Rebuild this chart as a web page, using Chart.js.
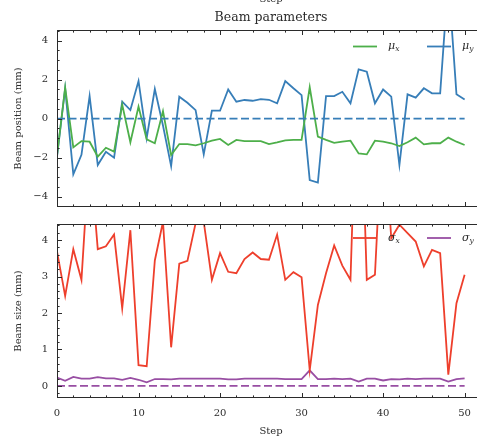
<!DOCTYPE html>
<html>
<head>
<meta charset="utf-8">
<script src="https://cdn.jsdelivr.net/npm/chart.js@4.4.1/dist/chart.umd.min.js"></script>
<style>
  html, body { margin: 0; padding: 0; background: #fff; overflow: hidden; }
  body { width: 477px; height: 437px; position: relative; }
  .panel { position: absolute; left: 0; width: 492px; }
  #topPanel { top: 0; height: 215px; }
  #bottomPanel { top: 215px; height: 222px; }
</style>
</head>
<body>
<div class="panel" id="topPanel"><canvas id="posChart"></canvas></div>
<div class="panel" id="bottomPanel"><canvas id="sizeChart"></canvas></div>
<script>
const steps = [0, 1, 2, 3, 4, 5, 6, 7, 8, 9, 10, 11, 12, 13, 14, 15, 16, 17, 18, 19, 20,
  21, 22, 23, 24, 25, 26, 27, 28, 29, 30, 31, 32, 33, 34, 35, 36, 37, 38, 39, 40,
  41, 42, 43, 44, 45, 46, 47, 48, 49, 50];

// beam centroid (mm)
const muX = [-1.9, 1.6, -1.47, -1.15, -1.18, -1.95, -1.49, -1.69, 0.72, -1.21, 0.62,
  -1.06, -1.26, 0.39, -1.86, -1.3, -1.3, -1.37, -1.26, -1.13, -1.04,
  -1.35, -1.09, -1.15, -1.15, -1.15, -1.3, -1.21, -1.11, -1.09, -1.09,
  1.61, -0.92, -1.09, -1.24, -1.18, -1.13, -1.78, -1.83, -1.13, -1.18,
  -1.26, -1.4, -1.21, -0.97, -1.32, -1.26, -1.26, -0.97, -1.18, -1.35];
const muY = [-1.95, 1.55, -2.85, -1.85, 1.16, -2.38, -1.7, -2.0, 0.87, 0.44, 1.93,
  -1.0, 1.52, -0.35, -2.43, 1.13, 0.82, 0.44, -1.83, 0.41, 0.41,
  1.5, 0.87, 0.96, 0.92, 1.0, 0.97, 0.79, 1.93, 1.56, 1.21,
  -3.15, -3.28, 1.16, 1.16, 1.38, 0.79, 2.53, 2.41, 0.79, 1.5,
  1.13, -2.38, 1.25, 1.08, 1.56, 1.3, 1.3, 7.2, 1.26, 0.99];

// beam size (mm)
const sigmaX = [3.69, 2.47, 3.75, 2.91, 6.5, 3.75, 3.83, 4.15, 2.13, 4.27, 0.57,
  0.54, 3.44, 4.5, 1.06, 3.35, 3.43, 4.46, 4.5, 2.91, 3.64,
  3.13, 3.09, 3.48, 3.66, 3.48, 3.46, 4.15, 2.91, 3.12, 2.98,
  0.43, 2.22, 3.09, 3.85, 3.3, 2.91, 10.0, 2.91, 3.05, 7.5,
  4.05, 4.42, 4.19, 3.96, 3.28, 3.73, 3.64, 0.31, 2.27, 3.05];
const sigmaY = [0.23, 0.14, 0.25, 0.2, 0.2, 0.24, 0.21, 0.21, 0.17, 0.22, 0.17,
  0.1, 0.19, 0.19, 0.18, 0.2, 0.2, 0.2, 0.2, 0.2, 0.2,
  0.18, 0.18, 0.2, 0.2, 0.2, 0.2, 0.2, 0.19, 0.19, 0.19,
  0.43, 0.19, 0.19, 0.2, 0.19, 0.2, 0.12, 0.2, 0.2, 0.15,
  0.19, 0.18, 0.2, 0.19, 0.2, 0.2, 0.2, 0.12, 0.19, 0.21];

// targets
const targetSteps = [0, 50];
const targetMu = [0, 0];
const targetSigma = [0, 0];

const posTicks = [-4, -2, 0, 2, 4];
const sizeTicks = [0, 1, 2, 3, 4];
const stepTicks = [0, 10, 20, 30, 40, 50];

const FONT = "'DejaVu Serif', serif";
const INK = '#2b2b2b';
const GREEN = '#4daf4a';
const BLUE = '#377eb8';
const RED = '#ee3f2c';
const PURPLE = '#984ea3';

const toPoints = (xs, ys) => xs.map((x, i) => ({x: x, y: ys[i]}));
const minus = v => String(v).replace('-', '\u2212');

const lineSet = (label, xs, ys, color, dashed) => ({
  label: label,
  data: toPoints(xs, ys),
  borderColor: color,
  borderWidth: 1.8,
  borderDash: dashed ? [8, 3.5] : [],
  pointRadius: 0,
  tension: 0,
  clip: 0
});

// no extra room for half-height labels, the layout padding handles it
const noLabelPadding = s => {
  s.paddingTop = 0; s.paddingBottom = 0;
  s.paddingLeft = 0; s.paddingRight = 0;
};

// box frame plus inward major/minor ticks on every side
const frameTicks = {
  id: 'frameTicks',
  afterDraw(chart, args, opts) {
    const {ctx, chartArea: a, scales} = chart;
    const xs = scales.x, ys = scales.y;
    ctx.save();
    ctx.strokeStyle = INK;
    ctx.lineWidth = 1;
    ctx.strokeRect(Math.round(a.left) + 0.5, Math.round(a.top) + 0.5,
      Math.round(a.width) - 1, Math.round(a.height) - 1);
    const walk = (min, max, step, major, fn) => {
      for (let k = Math.ceil(min / step - 1e-9); k * step <= max + 1e-9; k++) {
        const v = k * step;
        const isMajor = Math.abs(v / major - Math.round(v / major)) < 1e-6;
        fn(v, isMajor ? 5 : 2.6);
      }
    };
    ctx.beginPath();
    walk(xs.min, xs.max, opts.xMinor, opts.xMajor, (v, len) => {
      const px = Math.round(xs.getPixelForValue(v)) + 0.5;
      ctx.moveTo(px, a.bottom); ctx.lineTo(px, a.bottom - len);
      ctx.moveTo(px, a.top); ctx.lineTo(px, a.top + len);
    });
    walk(ys.min, ys.max, opts.yMinor, opts.yMajor, (v, len) => {
      const py = Math.round(ys.getPixelForValue(v)) + 0.5;
      ctx.moveTo(a.left, py); ctx.lineTo(a.left + len, py);
      ctx.moveTo(a.right, py); ctx.lineTo(a.right - len, py);
    });
    ctx.stroke();
    ctx.restore();
  }
};

// matplotlib-like legend, no box, upper right inside the axes
const cornerLegend = {
  id: 'cornerLegend',
  afterDraw(chart, args, opts) {
    const {ctx, chartArea: a} = chart;
    ctx.save();
    let x = a.right - 132;
    const y = a.top + opts.dy;
    opts.items.forEach(item => {
      ctx.strokeStyle = item.color;
      ctx.lineWidth = 1.8;
      ctx.beginPath();
      ctx.moveTo(x, y); ctx.lineTo(x + 24, y);
      ctx.stroke();
      ctx.fillStyle = INK;
      ctx.textBaseline = 'middle';
      ctx.textAlign = 'left';
      ctx.font = 'italic 11px ' + FONT;
      ctx.fillText(item.sym, x + 35, y);
      const w = ctx.measureText(item.sym).width;
      ctx.font = 'italic 7.5px ' + FONT;
      ctx.fillText(item.sub, x + 35 + w, y + 3);
      x += 74;
    });
    ctx.restore();
  }
};

// figure title and the stray axis label above it
const panelText = {
  id: 'panelText',
  afterDraw(chart) {
    const {ctx, chartArea: a} = chart;
    const cx = (a.left + a.right) / 2;
    ctx.save();
    ctx.fillStyle = INK;
    ctx.textAlign = 'center';
    ctx.textBaseline = 'alphabetic';
    ctx.font = '12.5px ' + FONT;
    ctx.fillText('Beam parameters', cx, 21);
    ctx.font = '10px ' + FONT;
    ctx.fillText('Step', cx, 2);
    ctx.restore();
  }
};

const yAxis = (min, max, ticks, title) => ({
  type: 'linear',
  min: min,
  max: max,
  afterBuildTicks: s => { s.ticks = ticks.map(v => ({value: v})); },
  afterFit: s => { s.width = 57; noLabelPadding(s); },
  grid: {display: false, drawTicks: false},
  border: {display: false},
  ticks: {
    padding: 9,
    color: INK,
    font: {family: FONT, size: 10},
    callback: v => minus(v)
  },
  title: {
    display: true,
    text: title,
    color: INK,
    font: {family: FONT, size: 10},
    padding: {top: 12, bottom: 0}
  }
});

const posChart = new Chart(document.getElementById('posChart'), {
  type: 'line',
  data: {
    datasets: [
      lineSet('target', targetSteps, targetMu, BLUE, true),
      lineSet('mu_x', steps, muX, GREEN, false),
      lineSet('mu_y', steps, muY, BLUE, false)
    ]
  },
  options: {
    responsive: true,
    maintainAspectRatio: false,
    animation: false,
    layout: {padding: {left: 0, right: 7, top: 30, bottom: 8}},
    scales: {
      x: {type: 'linear', min: 0, max: 52.5, display: false},
      y: yAxis(-4.53, 4.55, posTicks, 'Beam position (mm)')
    },
    plugins: {
      legend: {display: false},
      tooltip: {enabled: false},
      frameTicks: {xMinor: 2, xMajor: 10, yMinor: 0.5, yMajor: 2},
      cornerLegend: {dy: 16.5, items: [
        {sym: '\u03bc', sub: 'x', color: GREEN},
        {sym: '\u03bc', sub: 'y', color: BLUE}
      ]}
    }
  },
  plugins: [frameTicks, cornerLegend, panelText]
});

const sizeChart = new Chart(document.getElementById('sizeChart'), {
  type: 'line',
  data: {
    datasets: [
      lineSet('target', targetSteps, targetSigma, PURPLE, true),
      lineSet('sigma_x', steps, sigmaX, RED, false),
      lineSet('sigma_y', steps, sigmaY, PURPLE, false)
    ]
  },
  options: {
    responsive: true,
    maintainAspectRatio: false,
    animation: false,
    layout: {padding: {left: 0, right: 7, top: 9, bottom: 0}},
    scales: {
      x: {
        type: 'linear',
        min: 0,
        max: 52.5,
        afterBuildTicks: s => { s.ticks = stepTicks.map(v => ({value: v})); },
        afterFit: s => { s.height = 39; noLabelPadding(s); },
        grid: {display: false, drawTicks: false},
        border: {display: false},
        ticks: {
          padding: 9,
          maxRotation: 0,
          color: INK,
          font: {family: FONT, size: 10}
        },
        title: {
          display: true,
          text: 'Step',
          color: INK,
          font: {family: FONT, size: 10},
          padding: {top: 0, bottom: 0}
        }
      },
      y: yAxis(-0.33, 4.44, sizeTicks, 'Beam size (mm)')
    },
    plugins: {
      legend: {display: false},
      tooltip: {enabled: false},
      frameTicks: {xMinor: 2, xMajor: 10, yMinor: 0.2, yMajor: 1},
      cornerLegend: {dy: 14, items: [
        {sym: '\u03c3', sub: 'x', color: RED},
        {sym: '\u03c3', sub: 'y', color: PURPLE}
      ]}
    }
  },
  plugins: [frameTicks, cornerLegend]
});
</script>
</body>
</html>
